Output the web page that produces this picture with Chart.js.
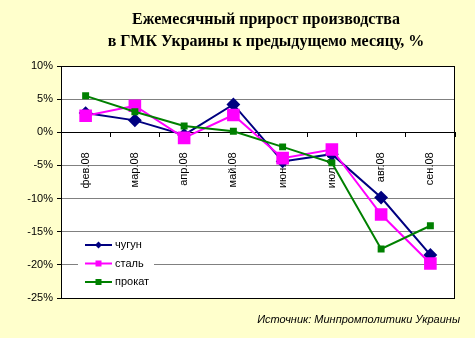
<!DOCTYPE html>
<html>
<head>
<meta charset="utf-8">
<script src="https://cdn.jsdelivr.net/npm/chart.js@4.4.0/dist/chart.umd.min.js"></script>
<style>
  html, body { margin: 0; padding: 0; background: #ffffcc; }
  #wrap { width: 475px; height: 338px; }
</style>
</head>
<body>
<div id="wrap"><canvas id="prodChart" width="475" height="338"></canvas></div>
<script>
// ---- data ----
const months = ['фев.08', 'мар.08', 'апр.08', 'май.08', 'июн.08', 'июл.08', 'авг.08', 'сен.08'];
const castIron = [2.9, 1.8, -0.4, 4.2, -4.4, -3.3, -9.85, -18.5];
const steel = [2.5, 4.0, -0.85, 2.6, -3.9, -2.6, -12.4, -19.8];
const rolled = [5.5, 3.1, 0.95, 0.15, -2.2, -4.6, -17.6, -14.1];
const yTicks = [10, 5, 0, -5, -10, -15, -20, -25];
const seriesNames = ['чугун', 'сталь', 'прокат'];
const titleLines = ['Ежемесячный прирост производства', 'в ГМК Украины к предыдущемо месяцу, %'];
const sourceNote = 'Источник: Минпромполитики Украины';

Chart.defaults.font.family = "'Liberation Sans', Arial, sans-serif";
Chart.defaults.font.size = 11;
Chart.defaults.color = '#000';

// background, plot frame, title, legend, source
const backdrop = {
  id: 'backdrop',
  beforeDraw(chart) {
    const { ctx, chartArea: a } = chart;
    ctx.save();
    ctx.fillStyle = '#ffffcc';
    ctx.fillRect(0, 0, chart.width, chart.height);
    ctx.fillStyle = '#ffffff';
    ctx.fillRect(a.left, a.top, a.right - a.left, a.bottom - a.top);
    ctx.restore();
  },
  afterDraw(chart) {
    const { ctx, chartArea: a } = chart;
    ctx.save();
    ctx.strokeStyle = '#000';
    ctx.lineWidth = 1;
    ctx.strokeRect(a.left + 0.5, a.top + 0.5, a.right - a.left - 1, a.bottom - a.top);

    // title
    ctx.fillStyle = '#000';
    ctx.font = "bold 16px 'Liberation Serif', 'Times New Roman', serif";
    ctx.textAlign = 'center';
    ctx.textBaseline = 'middle';
    ctx.fillText(titleLines[0], 266, 20);
    ctx.fillText(titleLines[1], 266, 42);

    // source note
    ctx.font = "italic 11px 'Liberation Sans', Arial, sans-serif";
    ctx.textAlign = 'right';
    ctx.fillText(sourceNote, 460, 320);

    // legend inside the plot
    ctx.font = "11px 'Liberation Sans', Arial, sans-serif";
    ctx.fillStyle = '#ffffff';
    ctx.fillRect(78, 236, 76, 56);
    chart.data.datasets.forEach((ds, i) => {
      const y = 245 + i * 18.5;
      ctx.strokeStyle = ds.borderColor;
      ctx.lineWidth = 2;
      ctx.beginPath();
      ctx.moveTo(85, y);
      ctx.lineTo(112, y);
      ctx.stroke();
      ctx.fillStyle = ds.borderColor;
      if (ds.pointStyle === 'rectRot') {
        ctx.beginPath();
        ctx.moveTo(98.5, y - 3.5);
        ctx.lineTo(102, y);
        ctx.lineTo(98.5, y + 3.5);
        ctx.lineTo(95, y);
        ctx.closePath();
        ctx.fill();
      } else {
        ctx.fillRect(95.5, y - 3, 6, 6);
      }
      ctx.fillStyle = '#000';
      ctx.textAlign = 'left';
      ctx.fillText(ds.label, 115, y);
    });
    ctx.restore();
  }
};

new Chart(document.getElementById('prodChart'), {
  type: 'line',
  data: {
    labels: months,
    datasets: [
      {
        label: seriesNames[0],
        data: castIron,
        borderColor: '#000080',
        backgroundColor: '#000080',
        borderWidth: 2,
        pointStyle: 'rectRot',
        pointRadius: 5.5,
        order: 3
      },
      {
        label: seriesNames[1],
        data: steel,
        borderColor: '#ff00ff',
        backgroundColor: '#ff00ff',
        borderWidth: 2,
        pointStyle: 'rect',
        pointRadius: 7.5,
        order: 2
      },
      {
        label: seriesNames[2],
        data: rolled,
        borderColor: '#008000',
        backgroundColor: '#008000',
        borderWidth: 2,
        pointStyle: 'rect',
        pointRadius: 3.5,
        order: 1
      }
    ]
  },
  options: {
    responsive: false,
    animation: false,
    layout: { padding: { top: 66, bottom: 40, left: 0, right: 20 } },
    plugins: {
      legend: { display: false },
      tooltip: { enabled: false }
    },
    scales: {
      x: {
        type: 'category',
        position: { y: 0 },
        offset: true,
        grid: { offset: true, drawOnChartArea: false, tickLength: 4, tickColor: '#000' },
        border: { color: '#000', width: 1 },
        ticks: { minRotation: 90, maxRotation: 90, padding: 16, autoSkip: false, color: '#000' }
      },
      y: {
        min: -25,
        max: 10,
        afterFit: (scale) => { scale.width = 61; },
        afterBuildTicks: (scale) => { scale.ticks = yTicks.map(v => ({ value: v })); },
        grid: { color: '#808080', tickLength: 4, tickColor: '#000' },
        border: { color: '#000', width: 1 },
        ticks: { padding: 4, color: '#000', callback: (v) => v + '%' }
      }
    }
  },
  plugins: [backdrop]
});
</script>
</body>
</html>
